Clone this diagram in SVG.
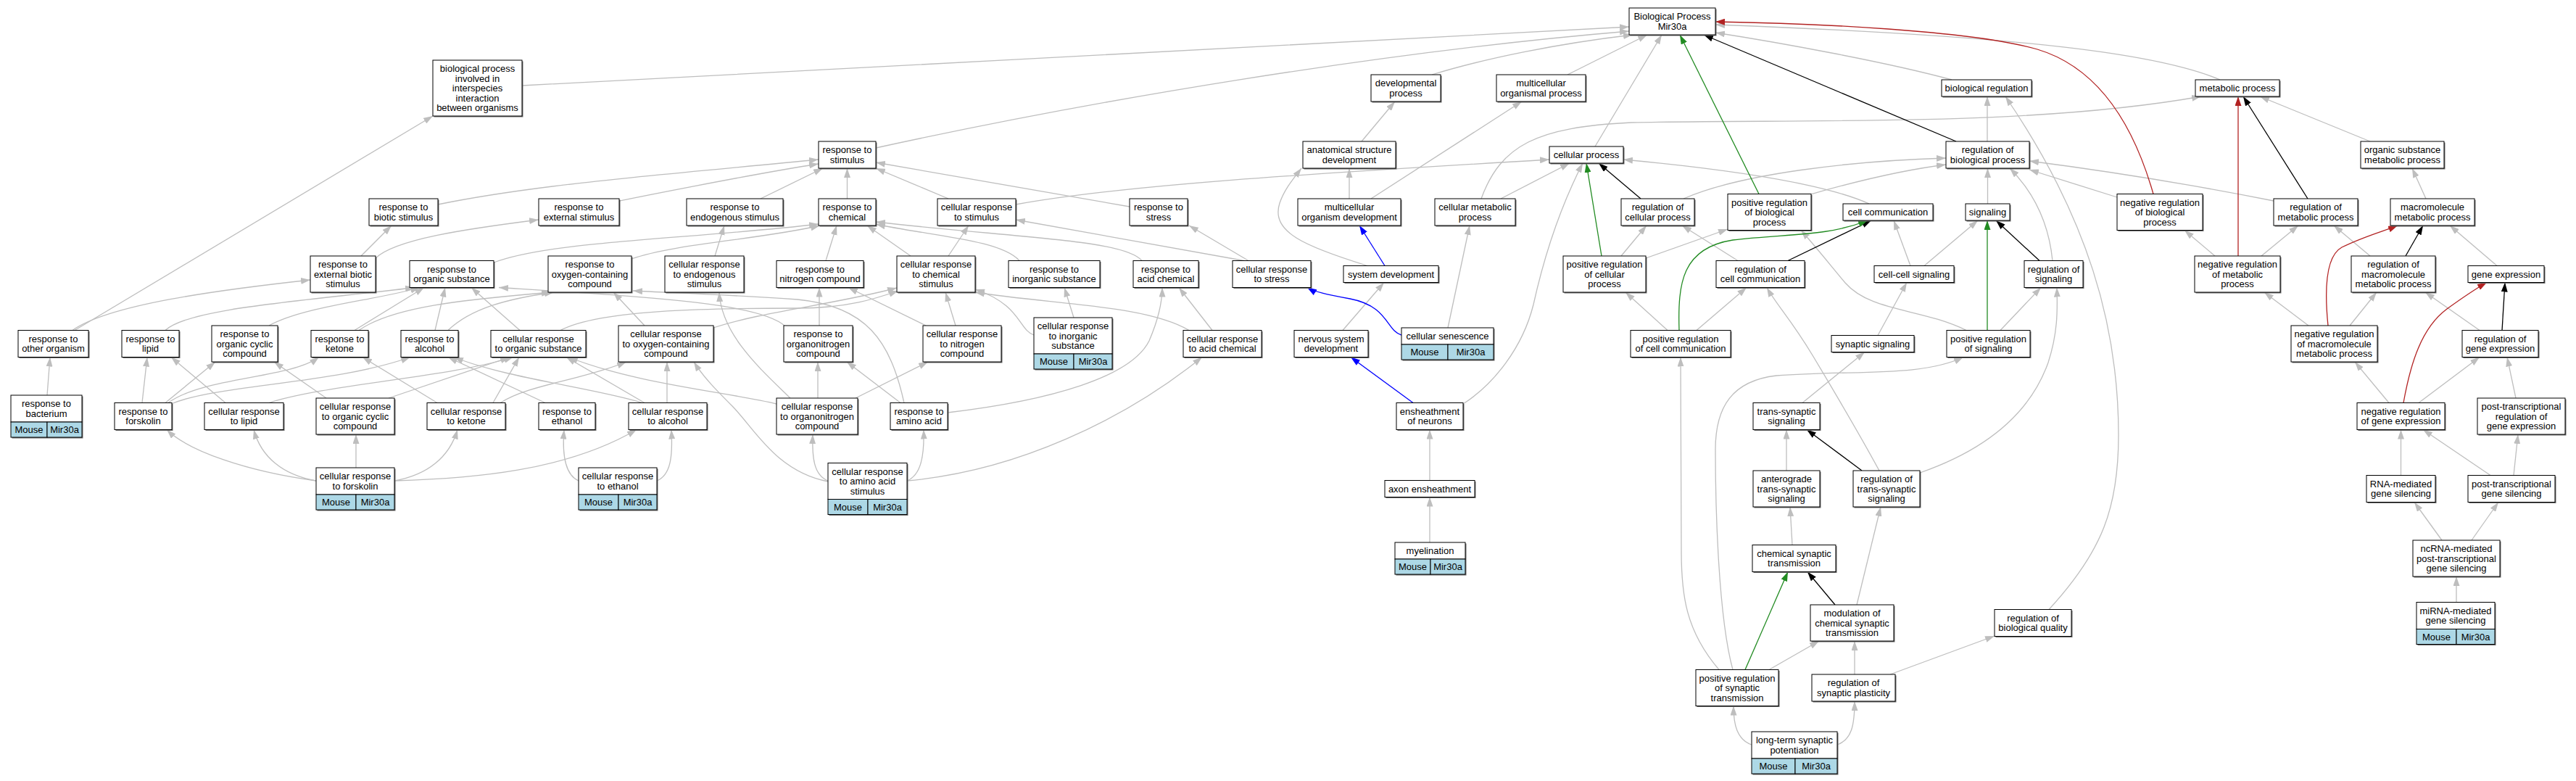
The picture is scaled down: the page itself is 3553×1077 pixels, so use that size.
<svg xmlns="http://www.w3.org/2000/svg" width="3553" height="1077" viewBox="0 0 3553 1077">
<style>
.s{fill:#6e6e6e}
.b{fill:#fff;stroke:#000;stroke-width:1}
.a{fill:#add8e6;stroke:#000;stroke-width:1}
.t{font-family:"Liberation Sans",Arial,Helvetica,sans-serif;font-size:13px;text-anchor:middle;fill:#000}
#edges path{fill:none;stroke-width:1.3}
.e{stroke:#bebebe;marker-end:url(#ag)}
.k{stroke:#000;marker-end:url(#ak)}
.g{stroke:#228b22;marker-end:url(#agr)}
.r{stroke:#b22222;marker-end:url(#ar)}
.u{stroke:#0000ff;marker-end:url(#au)}
</style>
<defs>
<marker id="ag" viewBox="0 0 13 9" refX="13" refY="4.5" markerWidth="13" markerHeight="9" markerUnits="userSpaceOnUse" orient="auto"><path d="M0,0 L13,4.5 L0,9 z" fill="#bebebe"/></marker>
<marker id="ak" viewBox="0 0 13 9" refX="13" refY="4.5" markerWidth="13" markerHeight="9" markerUnits="userSpaceOnUse" orient="auto"><path d="M0,0 L13,4.5 L0,9 z" fill="#000"/></marker>
<marker id="agr" viewBox="0 0 13 9" refX="13" refY="4.5" markerWidth="13" markerHeight="9" markerUnits="userSpaceOnUse" orient="auto"><path d="M0,0 L13,4.5 L0,9 z" fill="#228b22"/></marker>
<marker id="ar" viewBox="0 0 13 9" refX="13" refY="4.5" markerWidth="13" markerHeight="9" markerUnits="userSpaceOnUse" orient="auto"><path d="M0,0 L13,4.5 L0,9 z" fill="#b22222"/></marker>
<marker id="au" viewBox="0 0 13 9" refX="13" refY="4.5" markerWidth="13" markerHeight="9" markerUnits="userSpaceOnUse" orient="auto"><path d="M0,0 L13,4.5 L0,9 z" fill="#0000ff"/></marker>
</defs>
<rect x="0" y="0" width="3553" height="1077" fill="#fff"/>
<g id="edges">
<path class="e" d="M720,118 C1200,92 1800,62 2247,37"/>
<path class="e" d="M1208,204 C1500,140 1900,72 2247,43"/>
<path class="e" d="M1975,103 C2050,80 2150,60 2252,48"/>
<path class="e" d="M2162,103 L2272,48"/>
<path class="e" d="M2200,202 L2292,48"/>
<path class="e" d="M2692,110 C2600,85 2450,58 2366,45"/>
<path class="e" d="M3062,110 C2980,75 2800,50 2366,34"/>
<path class="e" d="M103,455.5 L597,160"/>
<path class="e" d="M604,282 C750,252 950,238 1129,220"/>
<path class="e" d="M854,277 C950,258 1050,238 1129,226"/>
<path class="e" d="M1049,274 L1135,232"/>
<path class="e" d="M1168.5,274 L1168.5,232"/>
<path class="e" d="M1308,274 L1208,232"/>
<path class="e" d="M1558,285 L1208,224"/>
<path class="e" d="M498,353 L540,311"/>
<path class="e" d="M518,356 C545,330 640,316 743,303"/>
<path class="e" d="M100,455.5 C150,420 300,400 428,386"/>
<path class="e" d="M65,545 L69,492.5"/>
<path class="e" d="M228,455.5 C260,425 420,415 572,396.5"/>
<path class="e" d="M371,449 C420,422 520,414 579,396.5"/>
<path class="e" d="M489,455.5 L585,396.5"/>
<path class="e" d="M495,455.5 C545,420 660,412 760,403"/>
<path class="e" d="M600,455.5 L614,396.5"/>
<path class="e" d="M618,455.5 C650,425 700,412 764,403"/>
<path class="e" d="M717,455.5 L650,396.5"/>
<path class="e" d="M1083,450 C1050,418 900,410 688,396.5"/>
<path class="e" d="M889,449 L846,403"/>
<path class="e" d="M1247,555.5 C1228,470 1195,422 1100,413 C1000,406 930,404 873,401"/>
<path class="e" d="M681,362 C760,332 950,330 1129,309"/>
<path class="e" d="M871,357 C930,336 1050,330 1131,311"/>
<path class="e" d="M1139,359.5 L1154,311"/>
<path class="e" d="M1256,353 L1196,311"/>
<path class="e" d="M1406,359.5 C1380,330 1280,325 1208,309"/>
<path class="e" d="M1575,359.5 C1550,330 1400,328 1208,306"/>
<path class="e" d="M986,353 L999,311"/>
<path class="e" d="M1308,353 L1336,311"/>
<path class="e" d="M1716,359.5 L1401,303"/>
<path class="e" d="M1722,359.5 L1640,311"/>
<path class="e" d="M1401,282 C1550,255 1800,240 2137,220"/>
<path class="e" d="M1090,549 C1050,510 995,462 992,403"/>
<path class="e" d="M1142,664 C1070,650 1040,590 1010,560 C990,540 970,520 957,499"/>
<path class="e" d="M1130,449 L1130,396.5"/>
<path class="e" d="M1277,449 L1170,396.5"/>
<path class="e" d="M984,452 C1050,430 1150,420 1237,397"/>
<path class="e" d="M773,455.5 C830,425 1000,425 1100,425 C1170,425 1210,411 1239,401"/>
<path class="e" d="M1318,449 L1304,403"/>
<path class="e" d="M1426,462 C1405,455 1408,420 1345,399"/>
<path class="e" d="M1640,455.5 C1580,420 1450,420 1345,403"/>
<path class="e" d="M1481,438 L1468,396.5"/>
<path class="e" d="M1672,455.5 L1626,396.5"/>
<path class="e" d="M1307,569 C1450,552 1560,520 1585,470 C1600,435 1603,412 1603,396.5"/>
<path class="e" d="M1251,663 C1400,650 1550,580 1658,492.5"/>
<path class="e" d="M1251,663 C1270,655 1275,630 1274,592.5"/>
<path class="e" d="M1142,663 C1122,655 1120,630 1121,599"/>
<path class="e" d="M1128,549 L1128,499"/>
<path class="e" d="M1242,555.5 L1168,499"/>
<path class="e" d="M1180,549 L1280,499"/>
<path class="e" d="M1071,557 C1000,540 880,530 784,492.5"/>
<path class="e" d="M196,555.5 L203,492.5"/>
<path class="e" d="M311,555.5 L236,492.5"/>
<path class="e" d="M228,555.5 L297,499"/>
<path class="e" d="M450,549 L378,499"/>
<path class="e" d="M232,555.5 C280,520 400,522 440,492.5"/>
<path class="e" d="M236,557 C300,530 460,530 566,492.5"/>
<path class="e" d="M603,555.5 L500,492.5"/>
<path class="e" d="M536,549 L703,492.5"/>
<path class="e" d="M371,555.5 C450,530 620,520 708,492.5"/>
<path class="e" d="M680,555.5 L716,492.5"/>
<path class="e" d="M889,555.5 L781,492.5"/>
<path class="e" d="M690,555.5 C730,530 800,525 864,499"/>
<path class="e" d="M920,555.5 L920,499"/>
<path class="e" d="M752,555.5 L618,492.5"/>
<path class="e" d="M886,555.5 C820,535 700,522 626,492.5"/>
<path class="e" d="M436,663 C340,650 260,622 230,592.5"/>
<path class="e" d="M436,663 C390,655 360,630 350,592.5"/>
<path class="e" d="M491,645 L491,599"/>
<path class="e" d="M544,663 C590,655 620,630 631,592.5"/>
<path class="e" d="M544,663 C650,660 780,650 878,592.5"/>
<path class="e" d="M798,663 C780,655 775,630 778,592.5"/>
<path class="e" d="M906,663 C925,655 928,630 926,592.5"/>
<path class="e" d="M1878,195 L1924,140"/>
<path class="e" d="M1861,274 L1861,232"/>
<path class="e" d="M1891,274 L2099,140"/>
<path class="e" d="M1886,366.5 C1800,340 1752,320 1765,280 C1772,260 1785,245 1795,232"/>
<path class="e" d="M1852,455.5 L1909,389.5"/>
<path class="e" d="M1972,662.5 L1972,592.5"/>
<path class="e" d="M1972,748 L1972,685.5"/>
<path class="e" d="M2018,557 C2060,530 2100,480 2115,420 C2135,330 2160,270 2183,225"/>
<path class="e" d="M2070,274 L2165,225"/>
<path class="e" d="M2043,274 C2070,200 2120,175 2250,169 C2500,164 2800,175 3036,133"/>
<path class="e" d="M1997,452 L2027,311"/>
<path class="e" d="M2578,281 C2520,255 2400,235 2239,220"/>
<path class="e" d="M2322,274 C2400,240 2550,222 2684,218"/>
<path class="e" d="M2497,268 C2560,250 2620,235 2684,227"/>
<path class="e" d="M2236,353 L2271,311"/>
<path class="e" d="M2270,356 L2383,316"/>
<path class="e" d="M2397,359.5 L2320,311"/>
<path class="e" d="M2300,455.5 L2242,403"/>
<path class="e" d="M2340,455.5 L2409,396.5"/>
<path class="e" d="M2371,923.5 C2325,870 2319,820 2319,760 L2318,492.5"/>
<path class="e" d="M2635,366.5 L2612,304"/>
<path class="e" d="M2590,462.5 L2630,389.5"/>
<path class="e" d="M2654,366.5 L2728,304"/>
<path class="e" d="M2486,555.5 L2572,485.5"/>
<path class="e" d="M2712,455.5 C2650,425 2580,430 2545,390 C2520,360 2500,335 2484,317.5"/>
<path class="e" d="M2759,455.5 L2815,396.5"/>
<path class="e" d="M2831,359.5 C2825,300 2800,260 2772,232"/>
<path class="e" d="M2741.5,281 L2741.5,232"/>
<path class="e" d="M2741,195 L2741,133"/>
<path class="e" d="M2920,272 L2799,234"/>
<path class="e" d="M3136,277 C3000,250 2900,235 2799,222"/>
<path class="e" d="M2826,840.5 C2900,760 2922,700 2922,600 C2922,450 2880,300 2766,133"/>
<path class="e" d="M2607,930 L2751,877"/>
<path class="e" d="M2558,930 L2558,884"/>
<path class="e" d="M2440,923.5 L2509,884"/>
<path class="e" d="M2472,751.5 L2469,699"/>
<path class="e" d="M2464,649 L2464,592.5"/>
<path class="e" d="M2561,834 L2594,699"/>
<path class="e" d="M2648,652 C2740,620 2800,570 2825,500 C2838,460 2838,430 2837,396.5"/>
<path class="e" d="M2592,649 C2560,590 2530,540 2500,490 C2470,440 2450,420 2437,396.5"/>
<path class="e" d="M2390,923.5 C2370,850 2366,700 2366,620 C2366,560 2390,525 2450,518 C2560,510 2650,520 2708,492.5"/>
<path class="e" d="M2416,1027 C2396,1020 2391,1000 2391,973.5"/>
<path class="e" d="M2534,1027 C2554,1020 2558,1000 2558,967"/>
<path class="e" d="M3269,195 L3117,133"/>
<path class="e" d="M3119,353 L3170,311"/>
<path class="e" d="M3055,353 L3013,317.5"/>
<path class="e" d="M3346,274 L3327,232"/>
<path class="e" d="M3269,353 L3219,311"/>
<path class="e" d="M3184,449 L3123,403"/>
<path class="e" d="M3241,449 L3278,403"/>
<path class="e" d="M3444,366.5 L3379,311"/>
<path class="e" d="M3420,455.5 L3345,403"/>
<path class="e" d="M3295,555.5 L3248,499"/>
<path class="e" d="M3336,555.5 L3420,492.5"/>
<path class="e" d="M3470,549 L3458,492.5"/>
<path class="e" d="M3311.5,655.5 L3311.5,592.5"/>
<path class="e" d="M3435,655.5 L3342,592.5"/>
<path class="e" d="M3467,655.5 L3473,599"/>
<path class="e" d="M3368,745 L3330,692.5"/>
<path class="e" d="M3409,745 L3446,692.5"/>
<path class="e" d="M3388,830.5 L3388,795"/>
<path class="k" d="M2698,195 L2350,48"/>
<path class="k" d="M2263,274 L2205,225"/>
<path class="k" d="M2466,359.5 L2581,304"/>
<path class="k" d="M2813,359.5 L2753,304"/>
<path class="k" d="M2568,649 L2492,592.5"/>
<path class="k" d="M2531,834 L2493,788.5"/>
<path class="k" d="M3183,274 L3094,133"/>
<path class="k" d="M3318,353 L3342,311"/>
<path class="k" d="M3451,455.5 L3455,389.5"/>
<path class="g" d="M2426,267.5 L2317,48"/>
<path class="g" d="M2209,353 L2188,225"/>
<path class="g" d="M2316,455.5 C2314,390 2320,342 2390,331 C2470,322 2520,326 2576,304"/>
<path class="g" d="M2741,455.5 L2741,304"/>
<path class="g" d="M2407,923.5 L2466,788.5"/>
<path class="r" d="M2970,267.5 C2945,180 2900,95 2810,68 C2720,42 2500,32 2366,30"/>
<path class="r" d="M3087,353 L3087,133"/>
<path class="r" d="M3211,449 C3205,390 3210,352 3230,341 C3260,326 3290,318 3307,311"/>
<path class="r" d="M3315,555.5 C3325,500 3340,452 3375,426 C3400,408 3415,398 3430,389.5"/>
<path class="u" d="M1933,462 C1912,456 1915,422 1862,412 C1830,406 1812,402 1803,396.5"/>
<path class="u" d="M1910,366.5 L1875,311"/>
<path class="u" d="M1949,555.5 L1863,492.5"/>
</g>
<g id="n_bp"><rect class="s" x="2248.5" y="12.5" width="119" height="37"/><rect class="b" x="2247" y="11" width="119" height="37"/><text class="t"><tspan x="2306.5" y="27.25">Biological Process</tspan><tspan x="2306.5" y="40.75">Mir30a</tspan></text></g>
<g id="n_bpi"><rect class="s" x="598.5" y="84.5" width="123" height="77"/><rect class="b" x="597" y="83" width="123" height="77"/><text class="t"><tspan x="658.5" y="99">biological process</tspan><tspan x="658.5" y="112.5">involved in</tspan><tspan x="658.5" y="126">interspecies</tspan><tspan x="658.5" y="139.5">interaction</tspan><tspan x="658.5" y="153">between organisms</tspan></text></g>
<g id="n_dev"><rect class="s" x="1892.5" y="104.5" width="96" height="37"/><rect class="b" x="1891" y="103" width="96" height="37"/><text class="t"><tspan x="1939" y="119.25">developmental</tspan><tspan x="1939" y="132.75">process</tspan></text></g>
<g id="n_mop"><rect class="s" x="2065.5" y="104.5" width="123" height="37"/><rect class="b" x="2064" y="103" width="123" height="37"/><text class="t"><tspan x="2125.5" y="119.25">multicellular</tspan><tspan x="2125.5" y="132.75">organismal process</tspan></text></g>
<g id="n_breg"><rect class="s" x="2679.5" y="111.5" width="124" height="23"/><rect class="b" x="2678" y="110" width="124" height="23"/><text class="t" x="2740" y="126">biological regulation</text></g>
<g id="n_mp"><rect class="s" x="3029.5" y="111.5" width="116" height="23"/><rect class="b" x="3028" y="110" width="116" height="23"/><text class="t" x="3086" y="126">metabolic process</text></g>
<g id="n_rstim"><rect class="s" x="1130.5" y="196.5" width="79" height="37"/><rect class="b" x="1129" y="195" width="79" height="37"/><text class="t"><tspan x="1168.5" y="211.25">response to</tspan><tspan x="1168.5" y="224.75">stimulus</tspan></text></g>
<g id="n_asd"><rect class="s" x="1798.5" y="196.5" width="128" height="37"/><rect class="b" x="1797" y="195" width="128" height="37"/><text class="t"><tspan x="1861" y="211.25">anatomical structure</tspan><tspan x="1861" y="224.75">development</tspan></text></g>
<g id="n_cp"><rect class="s" x="2138.5" y="203.5" width="102" height="23"/><rect class="b" x="2137" y="202" width="102" height="23"/><text class="t" x="2188" y="218">cellular process</text></g>
<g id="n_rbp"><rect class="s" x="2685.5" y="196.5" width="115" height="37"/><rect class="b" x="2684" y="195" width="115" height="37"/><text class="t"><tspan x="2741.5" y="211.25">regulation of</tspan><tspan x="2741.5" y="224.75">biological process</tspan></text></g>
<g id="n_osmp"><rect class="s" x="3257.5" y="196.5" width="115" height="37"/><rect class="b" x="3256" y="195" width="115" height="37"/><text class="t"><tspan x="3313.5" y="211.25">organic substance</tspan><tspan x="3313.5" y="224.75">metabolic process</tspan></text></g>
<g id="n_rbs"><rect class="s" x="510.5" y="275.5" width="95" height="37"/><rect class="b" x="509" y="274" width="95" height="37"/><text class="t"><tspan x="556.5" y="290.25">response to</tspan><tspan x="556.5" y="303.75">biotic stimulus</tspan></text></g>
<g id="n_res"><rect class="s" x="744.5" y="275.5" width="111" height="37"/><rect class="b" x="743" y="274" width="111" height="37"/><text class="t"><tspan x="798.5" y="290.25">response to</tspan><tspan x="798.5" y="303.75">external stimulus</tspan></text></g>
<g id="n_rendo"><rect class="s" x="948.5" y="275.5" width="133" height="37"/><rect class="b" x="947" y="274" width="133" height="37"/><text class="t"><tspan x="1013.5" y="290.25">response to</tspan><tspan x="1013.5" y="303.75">endogenous stimulus</tspan></text></g>
<g id="n_rchem"><rect class="s" x="1130.5" y="275.5" width="79" height="37"/><rect class="b" x="1129" y="274" width="79" height="37"/><text class="t"><tspan x="1168.5" y="290.25">response to</tspan><tspan x="1168.5" y="303.75">chemical</tspan></text></g>
<g id="n_crstim"><rect class="s" x="1294.5" y="275.5" width="108" height="37"/><rect class="b" x="1293" y="274" width="108" height="37"/><text class="t"><tspan x="1347" y="290.25">cellular response</tspan><tspan x="1347" y="303.75">to stimulus</tspan></text></g>
<g id="n_rstress"><rect class="s" x="1559.5" y="275.5" width="80" height="37"/><rect class="b" x="1558" y="274" width="80" height="37"/><text class="t"><tspan x="1598" y="290.25">response to</tspan><tspan x="1598" y="303.75">stress</tspan></text></g>
<g id="n_mod"><rect class="s" x="1791.5" y="275.5" width="142" height="37"/><rect class="b" x="1790" y="274" width="142" height="37"/><text class="t"><tspan x="1861" y="290.25">multicellular</tspan><tspan x="1861" y="303.75">organism development</tspan></text></g>
<g id="n_cmp"><rect class="s" x="1980.5" y="275.5" width="111" height="37"/><rect class="b" x="1979" y="274" width="111" height="37"/><text class="t"><tspan x="2034.5" y="290.25">cellular metabolic</tspan><tspan x="2034.5" y="303.75">process</tspan></text></g>
<g id="n_rcp"><rect class="s" x="2237.5" y="275.5" width="101" height="37"/><rect class="b" x="2236" y="274" width="101" height="37"/><text class="t"><tspan x="2286.5" y="290.25">regulation of</tspan><tspan x="2286.5" y="303.75">cellular process</tspan></text></g>
<g id="n_prbp"><rect class="s" x="2384.5" y="269" width="115" height="50"/><rect class="b" x="2383" y="267.5" width="115" height="50"/><text class="t"><tspan x="2440.5" y="283.5">positive regulation</tspan><tspan x="2440.5" y="297">of biological</tspan><tspan x="2440.5" y="310.5">process</tspan></text></g>
<g id="n_cc"><rect class="s" x="2543.5" y="282.5" width="124" height="23"/><rect class="b" x="2542" y="281" width="124" height="23"/><text class="t" x="2604" y="297">cell communication</text></g>
<g id="n_sig"><rect class="s" x="2712.5" y="282.5" width="61" height="23"/><rect class="b" x="2711" y="281" width="61" height="23"/><text class="t" x="2741.5" y="297">signaling</text></g>
<g id="n_nrbp"><rect class="s" x="2921.5" y="269" width="118" height="50"/><rect class="b" x="2920" y="267.5" width="118" height="50"/><text class="t"><tspan x="2979" y="283.5">negative regulation</tspan><tspan x="2979" y="297">of biological</tspan><tspan x="2979" y="310.5">process</tspan></text></g>
<g id="n_rmp"><rect class="s" x="3137.5" y="275.5" width="116" height="37"/><rect class="b" x="3136" y="274" width="116" height="37"/><text class="t"><tspan x="3194" y="290.25">regulation of</tspan><tspan x="3194" y="303.75">metabolic process</tspan></text></g>
<g id="n_mmp"><rect class="s" x="3298.5" y="275.5" width="116" height="37"/><rect class="b" x="3297" y="274" width="116" height="37"/><text class="t"><tspan x="3355" y="290.25">macromolecule</tspan><tspan x="3355" y="303.75">metabolic process</tspan></text></g>
<g id="n_rebs"><rect class="s" x="429.5" y="354.5" width="90" height="50"/><rect class="b" x="428" y="353" width="90" height="50"/><text class="t"><tspan x="473" y="369">response to</tspan><tspan x="473" y="382.5">external biotic</tspan><tspan x="473" y="396">stimulus</tspan></text></g>
<g id="n_ros"><rect class="s" x="566.5" y="361" width="116" height="37"/><rect class="b" x="565" y="359.5" width="116" height="37"/><text class="t"><tspan x="623" y="375.75">response to</tspan><tspan x="623" y="389.25">organic substance</tspan></text></g>
<g id="n_rocc"><rect class="s" x="757.5" y="354.5" width="115" height="50"/><rect class="b" x="756" y="353" width="115" height="50"/><text class="t"><tspan x="813.5" y="369">response to</tspan><tspan x="813.5" y="382.5">oxygen-containing</tspan><tspan x="813.5" y="396">compound</tspan></text></g>
<g id="n_crendo"><rect class="s" x="918.5" y="354.5" width="109" height="50"/><rect class="b" x="917" y="353" width="109" height="50"/><text class="t"><tspan x="971.5" y="369">cellular response</tspan><tspan x="971.5" y="382.5">to endogenous</tspan><tspan x="971.5" y="396">stimulus</tspan></text></g>
<g id="n_rnc"><rect class="s" x="1072.5" y="361" width="120" height="37"/><rect class="b" x="1071" y="359.5" width="120" height="37"/><text class="t"><tspan x="1131" y="375.75">response to</tspan><tspan x="1131" y="389.25">nitrogen compound</tspan></text></g>
<g id="n_crchem"><rect class="s" x="1238.5" y="354.5" width="108" height="50"/><rect class="b" x="1237" y="353" width="108" height="50"/><text class="t"><tspan x="1291" y="369">cellular response</tspan><tspan x="1291" y="382.5">to chemical</tspan><tspan x="1291" y="396">stimulus</tspan></text></g>
<g id="n_rinorg"><rect class="s" x="1392.5" y="361" width="126" height="37"/><rect class="b" x="1391" y="359.5" width="126" height="37"/><text class="t"><tspan x="1454" y="375.75">response to</tspan><tspan x="1454" y="389.25">inorganic substance</tspan></text></g>
<g id="n_racid"><rect class="s" x="1564.5" y="361" width="90" height="37"/><rect class="b" x="1563" y="359.5" width="90" height="37"/><text class="t"><tspan x="1608" y="375.75">response to</tspan><tspan x="1608" y="389.25">acid chemical</tspan></text></g>
<g id="n_crstress"><rect class="s" x="1701.5" y="361" width="108" height="37"/><rect class="b" x="1700" y="359.5" width="108" height="37"/><text class="t"><tspan x="1754" y="375.75">cellular response</tspan><tspan x="1754" y="389.25">to stress</tspan></text></g>
<g id="n_sd"><rect class="s" x="1854.5" y="368" width="131" height="23"/><rect class="b" x="1853" y="366.5" width="131" height="23"/><text class="t" x="1918.5" y="382.5">system development</text></g>
<g id="n_prcp"><rect class="s" x="2157.5" y="354.5" width="114" height="50"/><rect class="b" x="2156" y="353" width="114" height="50"/><text class="t"><tspan x="2213" y="369">positive regulation</tspan><tspan x="2213" y="382.5">of cellular</tspan><tspan x="2213" y="396">process</tspan></text></g>
<g id="n_rcc"><rect class="s" x="2368.5" y="361" width="122" height="37"/><rect class="b" x="2367" y="359.5" width="122" height="37"/><text class="t"><tspan x="2428" y="375.75">regulation of</tspan><tspan x="2428" y="389.25">cell communication</tspan></text></g>
<g id="n_ccs"><rect class="s" x="2586.5" y="368" width="110" height="23"/><rect class="b" x="2585" y="366.5" width="110" height="23"/><text class="t" x="2640" y="382.5">cell-cell signaling</text></g>
<g id="n_rsig"><rect class="s" x="2793.5" y="361" width="81" height="37"/><rect class="b" x="2792" y="359.5" width="81" height="37"/><text class="t"><tspan x="2832.5" y="375.75">regulation of</tspan><tspan x="2832.5" y="389.25">signaling</tspan></text></g>
<g id="n_nrmp"><rect class="s" x="3028.5" y="354.5" width="118" height="50"/><rect class="b" x="3027" y="353" width="118" height="50"/><text class="t"><tspan x="3086" y="369">negative regulation</tspan><tspan x="3086" y="382.5">of metabolic</tspan><tspan x="3086" y="396">process</tspan></text></g>
<g id="n_rmmp"><rect class="s" x="3244.5" y="354.5" width="116" height="50"/><rect class="b" x="3243" y="353" width="116" height="50"/><text class="t"><tspan x="3301" y="369">regulation of</tspan><tspan x="3301" y="382.5">macromolecule</tspan><tspan x="3301" y="396">metabolic process</tspan></text></g>
<g id="n_ge"><rect class="s" x="3405.5" y="368" width="105" height="23"/><rect class="b" x="3404" y="366.5" width="105" height="23"/><text class="t" x="3456.5" y="382.5">gene expression</text></g>
<g id="n_roo"><rect class="s" x="26.5" y="457" width="97" height="37"/><rect class="b" x="25" y="455.5" width="97" height="37"/><text class="t"><tspan x="73.5" y="471.75">response to</tspan><tspan x="73.5" y="485.25">other organism</tspan></text></g>
<g id="n_rl"><rect class="s" x="169.5" y="457" width="79" height="37"/><rect class="b" x="168" y="455.5" width="79" height="37"/><text class="t"><tspan x="207.5" y="471.75">response to</tspan><tspan x="207.5" y="485.25">lipid</tspan></text></g>
<g id="n_rocyc"><rect class="s" x="293.5" y="450.5" width="91" height="50"/><rect class="b" x="292" y="449" width="91" height="50"/><text class="t"><tspan x="337.5" y="465">response to</tspan><tspan x="337.5" y="478.5">organic cyclic</tspan><tspan x="337.5" y="492">compound</tspan></text></g>
<g id="n_rk"><rect class="s" x="430.5" y="457" width="79" height="37"/><rect class="b" x="429" y="455.5" width="79" height="37"/><text class="t"><tspan x="468.5" y="471.75">response to</tspan><tspan x="468.5" y="485.25">ketone</tspan></text></g>
<g id="n_ralc"><rect class="s" x="554.5" y="457" width="79" height="37"/><rect class="b" x="553" y="455.5" width="79" height="37"/><text class="t"><tspan x="592.5" y="471.75">response to</tspan><tspan x="592.5" y="485.25">alcohol</tspan></text></g>
<g id="n_cros"><rect class="s" x="678.5" y="457" width="131" height="37"/><rect class="b" x="677" y="455.5" width="131" height="37"/><text class="t"><tspan x="742.5" y="471.75">cellular response</tspan><tspan x="742.5" y="485.25">to organic substance</tspan></text></g>
<g id="n_crocc"><rect class="s" x="854.5" y="450.5" width="131" height="50"/><rect class="b" x="853" y="449" width="131" height="50"/><text class="t"><tspan x="918.5" y="465">cellular response</tspan><tspan x="918.5" y="478.5">to oxygen-containing</tspan><tspan x="918.5" y="492">compound</tspan></text></g>
<g id="n_ronc"><rect class="s" x="1082.5" y="450.5" width="95" height="50"/><rect class="b" x="1081" y="449" width="95" height="50"/><text class="t"><tspan x="1128.5" y="465">response to</tspan><tspan x="1128.5" y="478.5">organonitrogen</tspan><tspan x="1128.5" y="492">compound</tspan></text></g>
<g id="n_crnc"><rect class="s" x="1274.5" y="450.5" width="108" height="50"/><rect class="b" x="1273" y="449" width="108" height="50"/><text class="t"><tspan x="1327" y="465">cellular response</tspan><tspan x="1327" y="478.5">to nitrogen</tspan><tspan x="1327" y="492">compound</tspan></text></g>
<g id="n_crinorg"><rect class="s" x="1427.5" y="439.5" width="108" height="71"/><rect class="b" x="1426" y="438" width="108" height="50"/><rect class="a" x="1426" y="488" width="55" height="21"/><rect class="a" x="1481" y="488" width="53" height="21"/><text class="t"><tspan x="1480" y="454">cellular response</tspan><tspan x="1480" y="467.5">to inorganic</tspan><tspan x="1480" y="481">substance</tspan></text><text class="t" x="1453.5" y="502.5">Mouse</text><text class="t" x="1507.5" y="502.5">Mir30a</text></g>
<g id="n_cracid"><rect class="s" x="1633.5" y="457" width="108" height="37"/><rect class="b" x="1632" y="455.5" width="108" height="37"/><text class="t"><tspan x="1686" y="471.75">cellular response</tspan><tspan x="1686" y="485.25">to acid chemical</tspan></text></g>
<g id="n_nsd"><rect class="s" x="1786.5" y="457" width="102" height="37"/><rect class="b" x="1785" y="455.5" width="102" height="37"/><text class="t"><tspan x="1836" y="471.75">nervous system</tspan><tspan x="1836" y="485.25">development</tspan></text></g>
<g id="n_cs"><rect class="s" x="1934.5" y="453.5" width="127" height="44"/><rect class="b" x="1933" y="452" width="127" height="23"/><rect class="a" x="1933" y="475" width="64" height="21"/><rect class="a" x="1997" y="475" width="63" height="21"/><text class="t" x="1996.5" y="468">cellular senescence</text><text class="t" x="1965" y="489.5">Mouse</text><text class="t" x="2028.5" y="489.5">Mir30a</text></g>
<g id="n_prcc"><rect class="s" x="2250.5" y="457" width="138" height="37"/><rect class="b" x="2249" y="455.5" width="138" height="37"/><text class="t"><tspan x="2318" y="471.75">positive regulation</tspan><tspan x="2318" y="485.25">of cell communication</tspan></text></g>
<g id="n_ss"><rect class="s" x="2527.5" y="464" width="114" height="23"/><rect class="b" x="2526" y="462.5" width="114" height="23"/><text class="t" x="2583" y="478.5">synaptic signaling</text></g>
<g id="n_prs"><rect class="s" x="2686.5" y="457" width="115" height="37"/><rect class="b" x="2685" y="455.5" width="115" height="37"/><text class="t"><tspan x="2742.5" y="471.75">positive regulation</tspan><tspan x="2742.5" y="485.25">of signaling</tspan></text></g>
<g id="n_nrmmp"><rect class="s" x="3161.5" y="450.5" width="119" height="50"/><rect class="b" x="3160" y="449" width="119" height="50"/><text class="t"><tspan x="3219.5" y="465">negative regulation</tspan><tspan x="3219.5" y="478.5">of macromolecule</tspan><tspan x="3219.5" y="492">metabolic process</tspan></text></g>
<g id="n_rge"><rect class="s" x="3397.5" y="457" width="105" height="37"/><rect class="b" x="3396" y="455.5" width="105" height="37"/><text class="t"><tspan x="3448.5" y="471.75">regulation of</tspan><tspan x="3448.5" y="485.25">gene expression</tspan></text></g>
<g id="n_rbact"><rect class="s" x="16.5" y="546.5" width="98" height="58"/><rect class="b" x="15" y="545" width="98" height="37"/><rect class="a" x="15" y="582" width="50" height="21"/><rect class="a" x="65" y="582" width="48" height="21"/><text class="t"><tspan x="64" y="561.25">response to</tspan><tspan x="64" y="574.75">bacterium</tspan></text><text class="t" x="40" y="597">Mouse</text><text class="t" x="89" y="597">Mir30a</text></g>
<g id="n_rf"><rect class="s" x="159.5" y="557" width="79" height="37"/><rect class="b" x="158" y="555.5" width="79" height="37"/><text class="t"><tspan x="197.5" y="571.75">response to</tspan><tspan x="197.5" y="585.25">forskolin</tspan></text></g>
<g id="n_crl"><rect class="s" x="283.5" y="557" width="109" height="37"/><rect class="b" x="282" y="555.5" width="109" height="37"/><text class="t"><tspan x="336.5" y="571.75">cellular response</tspan><tspan x="336.5" y="585.25">to lipid</tspan></text></g>
<g id="n_crocyc"><rect class="s" x="437.5" y="550.5" width="108" height="50"/><rect class="b" x="436" y="549" width="108" height="50"/><text class="t"><tspan x="490" y="565">cellular response</tspan><tspan x="490" y="578.5">to organic cyclic</tspan><tspan x="490" y="592">compound</tspan></text></g>
<g id="n_crk"><rect class="s" x="590.5" y="557" width="108" height="37"/><rect class="b" x="589" y="555.5" width="108" height="37"/><text class="t"><tspan x="643" y="571.75">cellular response</tspan><tspan x="643" y="585.25">to ketone</tspan></text></g>
<g id="n_reth"><rect class="s" x="744.5" y="557" width="78" height="37"/><rect class="b" x="743" y="555.5" width="78" height="37"/><text class="t"><tspan x="782" y="571.75">response to</tspan><tspan x="782" y="585.25">ethanol</tspan></text></g>
<g id="n_cralc"><rect class="s" x="868.5" y="557" width="108" height="37"/><rect class="b" x="867" y="555.5" width="108" height="37"/><text class="t"><tspan x="921" y="571.75">cellular response</tspan><tspan x="921" y="585.25">to alcohol</tspan></text></g>
<g id="n_cronc"><rect class="s" x="1072.5" y="550.5" width="112" height="50"/><rect class="b" x="1071" y="549" width="112" height="50"/><text class="t"><tspan x="1127" y="565">cellular response</tspan><tspan x="1127" y="578.5">to organonitrogen</tspan><tspan x="1127" y="592">compound</tspan></text></g>
<g id="n_raa"><rect class="s" x="1229.5" y="557" width="79" height="37"/><rect class="b" x="1228" y="555.5" width="79" height="37"/><text class="t"><tspan x="1267.5" y="571.75">response to</tspan><tspan x="1267.5" y="585.25">amino acid</tspan></text></g>
<g id="n_ens"><rect class="s" x="1927.5" y="557" width="92" height="37"/><rect class="b" x="1926" y="555.5" width="92" height="37"/><text class="t"><tspan x="1972" y="571.75">ensheathment</tspan><tspan x="1972" y="585.25">of neurons</tspan></text></g>
<g id="n_tss"><rect class="s" x="2419.5" y="557" width="92" height="37"/><rect class="b" x="2418" y="555.5" width="92" height="37"/><text class="t"><tspan x="2464" y="571.75">trans-synaptic</tspan><tspan x="2464" y="585.25">signaling</tspan></text></g>
<g id="n_nrge"><rect class="s" x="3252.5" y="557" width="121" height="37"/><rect class="b" x="3251" y="555.5" width="121" height="37"/><text class="t"><tspan x="3311.5" y="571.75">negative regulation</tspan><tspan x="3311.5" y="585.25">of gene expression</tspan></text></g>
<g id="n_ptrge"><rect class="s" x="3418.5" y="550.5" width="121" height="50"/><rect class="b" x="3417" y="549" width="121" height="50"/><text class="t"><tspan x="3477.5" y="565">post-transcriptional</tspan><tspan x="3477.5" y="578.5">regulation of</tspan><tspan x="3477.5" y="592">gene expression</tspan></text></g>
<g id="n_crf"><rect class="s" x="437.5" y="646.5" width="108" height="58"/><rect class="b" x="436" y="645" width="108" height="37"/><rect class="a" x="436" y="682" width="55" height="21"/><rect class="a" x="491" y="682" width="53" height="21"/><text class="t"><tspan x="490" y="661.25">cellular response</tspan><tspan x="490" y="674.75">to forskolin</tspan></text><text class="t" x="463.5" y="697">Mouse</text><text class="t" x="517.5" y="697">Mir30a</text></g>
<g id="n_creth"><rect class="s" x="799.5" y="646.5" width="108" height="58"/><rect class="b" x="798" y="645" width="108" height="37"/><rect class="a" x="798" y="682" width="55" height="21"/><rect class="a" x="853" y="682" width="53" height="21"/><text class="t"><tspan x="852" y="661.25">cellular response</tspan><tspan x="852" y="674.75">to ethanol</tspan></text><text class="t" x="825.5" y="697">Mouse</text><text class="t" x="879.5" y="697">Mir30a</text></g>
<g id="n_craa"><rect class="s" x="1143.5" y="640" width="109" height="71"/><rect class="b" x="1142" y="638.5" width="109" height="50"/><rect class="a" x="1142" y="688.5" width="55" height="21"/><rect class="a" x="1197" y="688.5" width="54" height="21"/><text class="t"><tspan x="1196.5" y="654.5">cellular response</tspan><tspan x="1196.5" y="668">to amino acid</tspan><tspan x="1196.5" y="681.5">stimulus</tspan></text><text class="t" x="1169.5" y="703.5">Mouse</text><text class="t" x="1224" y="703.5">Mir30a</text></g>
<g id="n_axe"><rect class="s" x="1911.5" y="664" width="124" height="23"/><rect class="b" x="1910" y="662.5" width="124" height="23"/><text class="t" x="1972" y="678.5">axon ensheathment</text></g>
<g id="n_atss"><rect class="s" x="2419.5" y="650.5" width="92" height="50"/><rect class="b" x="2418" y="649" width="92" height="50"/><text class="t"><tspan x="2464" y="665">anterograde</tspan><tspan x="2464" y="678.5">trans-synaptic</tspan><tspan x="2464" y="692">signaling</tspan></text></g>
<g id="n_rtss"><rect class="s" x="2557.5" y="650.5" width="92" height="50"/><rect class="b" x="2556" y="649" width="92" height="50"/><text class="t"><tspan x="2602" y="665">regulation of</tspan><tspan x="2602" y="678.5">trans-synaptic</tspan><tspan x="2602" y="692">signaling</tspan></text></g>
<g id="n_rmgs"><rect class="s" x="3265.5" y="657" width="95" height="37"/><rect class="b" x="3264" y="655.5" width="95" height="37"/><text class="t"><tspan x="3311.5" y="671.75">RNA-mediated</tspan><tspan x="3311.5" y="685.25">gene silencing</tspan></text></g>
<g id="n_ptgs"><rect class="s" x="3405.5" y="657" width="120" height="37"/><rect class="b" x="3404" y="655.5" width="120" height="37"/><text class="t"><tspan x="3464" y="671.75">post-transcriptional</tspan><tspan x="3464" y="685.25">gene silencing</tspan></text></g>
<g id="n_mye"><rect class="s" x="1925.5" y="749.5" width="97" height="44"/><rect class="b" x="1924" y="748" width="97" height="23"/><rect class="a" x="1924" y="771" width="49" height="21"/><rect class="a" x="1973" y="771" width="48" height="21"/><text class="t" x="1972.5" y="764">myelination</text><text class="t" x="1948.5" y="785.5">Mouse</text><text class="t" x="1997" y="785.5">Mir30a</text></g>
<g id="n_cst"><rect class="s" x="2418.5" y="753" width="115" height="37"/><rect class="b" x="2417" y="751.5" width="115" height="37"/><text class="t"><tspan x="2474.5" y="767.75">chemical synaptic</tspan><tspan x="2474.5" y="781.25">transmission</tspan></text></g>
<g id="n_ncgs"><rect class="s" x="3329.5" y="746.5" width="120" height="50"/><rect class="b" x="3328" y="745" width="120" height="50"/><text class="t"><tspan x="3388" y="761">ncRNA-mediated</tspan><tspan x="3388" y="774.5">post-transcriptional</tspan><tspan x="3388" y="788">gene silencing</tspan></text></g>
<g id="n_mcst"><rect class="s" x="2498.5" y="835.5" width="115" height="50"/><rect class="b" x="2497" y="834" width="115" height="50"/><text class="t"><tspan x="2554.5" y="850">modulation of</tspan><tspan x="2554.5" y="863.5">chemical synaptic</tspan><tspan x="2554.5" y="877">transmission</tspan></text></g>
<g id="n_rbq"><rect class="s" x="2752.5" y="842" width="106" height="37"/><rect class="b" x="2751" y="840.5" width="106" height="37"/><text class="t"><tspan x="2804" y="856.75">regulation of</tspan><tspan x="2804" y="870.25">biological quality</tspan></text></g>
<g id="n_migs"><rect class="s" x="3334.5" y="832" width="108" height="58"/><rect class="b" x="3333" y="830.5" width="108" height="37"/><rect class="a" x="3333" y="867.5" width="55" height="21"/><rect class="a" x="3388" y="867.5" width="53" height="21"/><text class="t"><tspan x="3387" y="846.75">miRNA-mediated</tspan><tspan x="3387" y="860.25">gene silencing</tspan></text><text class="t" x="3360.5" y="882.5">Mouse</text><text class="t" x="3414.5" y="882.5">Mir30a</text></g>
<g id="n_prst"><rect class="s" x="2340.5" y="925" width="114" height="50"/><rect class="b" x="2339" y="923.5" width="114" height="50"/><text class="t"><tspan x="2396" y="939.5">positive regulation</tspan><tspan x="2396" y="953">of synaptic</tspan><tspan x="2396" y="966.5">transmission</tspan></text></g>
<g id="n_rsp"><rect class="s" x="2500.5" y="931.5" width="115" height="37"/><rect class="b" x="2499" y="930" width="115" height="37"/><text class="t"><tspan x="2556.5" y="946.25">regulation of</tspan><tspan x="2556.5" y="959.75">synaptic plasticity</tspan></text></g>
<g id="n_ltp"><rect class="s" x="2417.5" y="1010.5" width="118" height="58"/><rect class="b" x="2416" y="1009" width="118" height="37"/><rect class="a" x="2416" y="1046" width="60" height="21"/><rect class="a" x="2476" y="1046" width="58" height="21"/><text class="t"><tspan x="2475" y="1025.25">long-term synaptic</tspan><tspan x="2475" y="1038.75">potentiation</tspan></text><text class="t" x="2446" y="1061">Mouse</text><text class="t" x="2505" y="1061">Mir30a</text></g>
</svg>
